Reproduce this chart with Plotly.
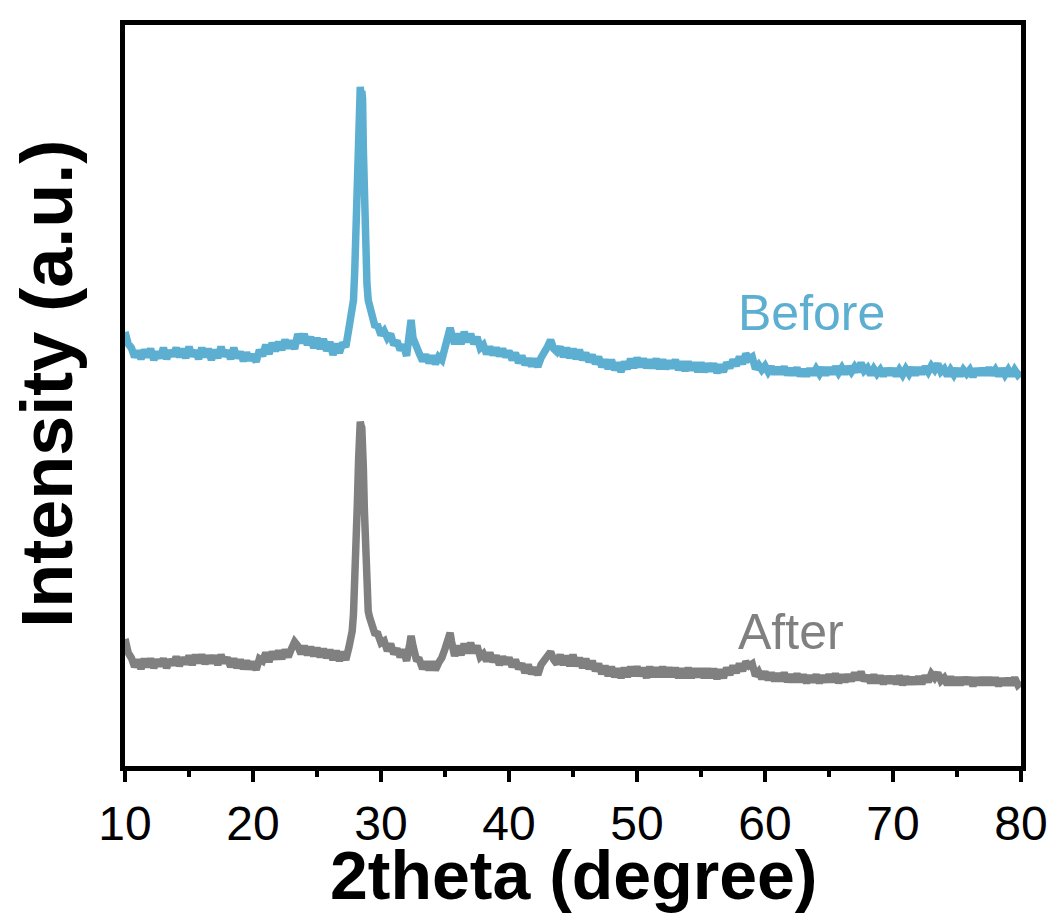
import plotly.graph_objects as go

# 2theta sampling positions (degree)
two_theta = [
    10.0, 10.25, 10.5, 10.75,
    11.0, 11.25, 11.5, 11.75,
    12.0, 12.25, 12.5, 12.75,
    13.0, 13.25, 13.5, 13.75,
    14.0, 14.25, 14.5, 14.75,
    15.0, 15.25, 15.5, 15.75,
    16.0, 16.25, 16.5, 16.75,
    17.0, 17.25, 17.5, 17.75,
    18.0, 18.25, 18.5, 18.75,
    19.0, 19.25, 19.5, 19.75,
    20.0, 20.25, 20.5, 20.75,
    21.0, 21.25, 21.5, 21.75,
    22.0, 22.25, 22.5, 22.75,
    23.0, 23.25, 23.5, 23.75,
    24.0, 24.25, 24.5, 24.75,
    25.0, 25.25, 25.5, 25.75,
    26.0, 26.25, 26.5, 26.75,
    27.0, 27.25, 27.5, 27.75, 27.85, 27.95,
    28.05, 28.15, 28.25, 28.32, 28.38, 28.44, 28.5, 28.56, 28.62, 28.7, 28.8, 28.9,
    29.0, 29.1, 29.25, 29.5, 29.75,
    30.0, 30.25, 30.5, 30.75,
    31.0, 31.25, 31.5, 31.75,
    32.0, 32.25, 32.35, 32.5, 32.75,
    33.0, 33.25, 33.5, 33.75,
    34.0, 34.25, 34.5, 34.75,
    35.0, 35.25, 35.4, 35.5, 35.75,
    36.0, 36.25, 36.5, 36.75,
    37.0, 37.25, 37.5, 37.75,
    38.0, 38.25, 38.5, 38.75,
    39.0, 39.25, 39.5, 39.75,
    40.0, 40.25, 40.5, 40.75,
    41.0, 41.25, 41.5, 41.75,
    42.0, 42.25, 42.5, 42.75,
    43.0, 43.25, 43.5, 43.75,
    44.0, 44.25, 44.5, 44.75,
    45.0, 45.25, 45.5, 45.75,
    46.0, 46.25, 46.5, 46.75,
    47.0, 47.25, 47.5, 47.75,
    48.0, 48.25, 48.5, 48.75,
    49.0, 49.25, 49.5, 49.75,
    50.0, 50.25, 50.5, 50.75,
    51.0, 51.25, 51.5, 51.75,
    52.0, 52.25, 52.5, 52.75,
    53.0, 53.25, 53.5, 53.75,
    54.0, 54.25, 54.5, 54.75,
    55.0, 55.25, 55.5, 55.75,
    56.0, 56.25, 56.5, 56.75,
    57.0, 57.25, 57.5, 57.75,
    58.0, 58.25, 58.5, 58.75,
    59.0, 59.25, 59.5, 59.75,
    60.0, 60.25, 60.5, 60.75,
    61.0, 61.25, 61.5, 61.75,
    62.0, 62.25, 62.5, 62.75,
    63.0, 63.25, 63.5, 63.75,
    64.0, 64.25, 64.5, 64.75,
    65.0, 65.25, 65.5, 65.75,
    66.0, 66.25, 66.5, 66.75,
    67.0, 67.25, 67.5, 67.75,
    68.0, 68.25, 68.5, 68.75,
    69.0, 69.25, 69.5, 69.75,
    70.0, 70.25, 70.5, 70.75,
    71.0, 71.25, 71.5, 71.75,
    72.0, 72.25, 72.5, 72.75,
    73.0, 73.25, 73.5, 73.75,
    74.0, 74.25, 74.5, 74.75,
    75.0, 75.25, 75.5, 75.75,
    76.0, 76.25, 76.5, 76.75,
    77.0, 77.25, 77.5, 77.75,
    78.0, 78.25, 78.5, 78.75,
    79.0, 79.25, 79.5, 79.75,
    80.0,
]

# Intensity (a.u.), "Before" pattern (offset stacked)
before = [
    468, 456, 452, 443,
    449, 441, 450, 443,
    451, 440, 448, 442,
    452, 441, 449, 444,
    452, 443, 451, 442,
    453, 444, 449, 441,
    452, 443, 451, 440,
    450, 442, 453, 444,
    449, 441, 452, 442,
    448, 439, 447, 440,
    445, 438, 450, 444,
    455, 446, 457, 449,
    458, 450, 460, 452,
    459, 451, 466, 457,
    466, 455, 463, 452,
    462, 451, 461, 449,
    458, 445, 456, 447,
    457, 453, 472, 488, 500, 530,
    575, 620, 668, 708, 714, 700, 710, 702, 652, 600, 550, 517,
    500, 494, 488, 475, 474,
    465, 469, 462, 466,
    455, 459, 450, 455,
    444, 470, 480, 462, 452,
    446, 439, 445, 437,
    444, 436, 443, 440,
    450, 465, 472, 467, 456,
    466, 456, 468, 458,
    466, 456, 463, 452,
    455, 446, 453, 445,
    452, 444, 451, 443,
    449, 440, 447, 437,
    444, 435, 441, 434,
    441, 433, 442, 446,
    453, 460, 451, 448,
    453, 443, 452, 442,
    451, 441, 450, 440,
    447, 438, 445, 436,
    443, 433, 440, 431,
    440, 430, 437, 428,
    438, 431, 441, 432,
    442, 433, 441, 432,
    440, 432, 441, 431,
    440, 431, 439, 432,
    440, 430, 438, 429,
    438, 430, 437, 428,
    437, 428, 436, 429,
    436, 427, 435, 428,
    437, 432, 440, 434,
    443, 436, 446, 441,
    443, 431, 435, 430,
    434, 428, 433, 426,
    432, 426, 433, 425,
    431, 425, 432, 424,
    430, 424, 431, 425,
    431, 426, 432, 425,
    432, 426, 433, 427,
    432, 426, 433, 428,
    433, 428, 437, 429,
    432, 425, 431, 426,
    430, 424, 431, 425,
    431, 424, 430, 425,
    431, 426, 432, 425,
    432, 426, 433, 428,
    434, 430, 436, 428,
    431, 424, 430, 425,
    431, 424, 430, 426,
    430, 423, 431, 425,
    431, 425, 432, 425,
    430, 424, 431, 425,
    430, 424, 430, 425,
    428,
]

# Intensity (a.u.), "After" pattern
after = [
    160, 146, 141, 132,
    139, 130, 140, 132,
    140, 131, 139, 133,
    140, 131, 139, 134,
    142, 133, 141, 135,
    143, 134, 144, 136,
    144, 135, 143, 136,
    143, 134, 144, 136,
    141, 132, 140, 131,
    139, 130, 138, 130,
    137, 129, 140, 138,
    146, 137, 147, 140,
    148, 140, 149, 142,
    150, 157, 153, 145,
    153, 144, 152, 143,
    151, 142, 150, 141,
    149, 139, 148, 138,
    147, 139, 152, 168, 185, 210,
    250, 295, 340, 372, 378, 374, 372, 362, 332, 290, 240, 205,
    188, 182, 176, 166, 165,
    156, 158, 148, 155,
    145, 150, 142, 149,
    138, 155, 163, 153, 140,
    139, 130, 137, 129,
    137, 129, 136, 141,
    150, 162, 166, 158, 143,
    153, 144, 155, 146,
    156, 146, 153, 142,
    145, 138, 146, 137,
    143, 134, 142, 135,
    141, 132, 139, 130,
    135, 126, 134, 125,
    131, 124, 134, 139,
    145, 147, 139, 135,
    144, 134, 143, 133,
    144, 133, 141, 131,
    140, 130, 138, 128,
    135, 125, 133, 123,
    132, 122, 130, 121,
    131, 122, 132, 123,
    132, 123, 131, 121,
    132, 122, 131, 122,
    132, 122, 131, 122,
    131, 121, 130, 121,
    131, 121, 130, 122,
    130, 121, 130, 121,
    130, 120, 129, 121,
    131, 124, 133, 126,
    135, 128, 137, 133,
    135, 123, 127, 120,
    127, 119, 126, 118,
    125, 118, 126, 117,
    124, 117, 125, 117,
    124, 116, 123, 117,
    124, 116, 123, 117,
    124, 117, 125, 116,
    124, 117, 124, 118,
    126, 119, 127, 118,
    123, 116, 124, 116,
    123, 115, 122, 116,
    122, 115, 123, 114,
    122, 115, 121, 115,
    122, 115, 123, 117,
    125, 121, 126, 118,
    121, 114, 122, 114,
    121, 114, 121, 115,
    121, 113, 121, 114,
    121, 114, 121, 114,
    121, 113, 120, 114,
    120, 114, 121, 114,
    117,
]

assert len(two_theta) == len(before) == len(after)

x_ticks = [10, 20, 30, 40, 50, 60, 70, 80]
labels = ["Before", "After"]
colors = ["#5DAFD2", "#808080"]

FONT = "Liberation Sans, Arial, sans-serif"

fig = go.Figure()
for name, ys, col in zip(labels, [before, after], colors):
    fig.add_trace(go.Scatter(
        x=two_theta, y=ys, mode="lines", name=name,
        line=dict(color=col, width=7.5), showlegend=False,
    ))

# curve labels
fig.add_annotation(x=63.6, y=487, xref="x", yref="y", text="Before", showarrow=False,
                   font=dict(family=FONT, size=50, color=colors[0]))
fig.add_annotation(x=62.05, y=167, xref="x", yref="y", text="After", showarrow=False,
                   font=dict(family=FONT, size=50, color=colors[1]))

# axis titles
fig.add_annotation(x=0.5, y=-0.147, xref="paper", yref="paper", text="<b>2theta (degree)</b>",
                   showarrow=False, xanchor="center", yanchor="middle",
                   font=dict(family=FONT, size=68, color="black"))
fig.add_annotation(x=-0.088, y=0.516, xref="paper", yref="paper", text="<b>Intensity (a.u.)</b>",
                   showarrow=False, xanchor="center", yanchor="middle", textangle=-90,
                   font=dict(family=FONT, size=72, color="black"))

fig.update_layout(
    width=1055, height=914,
    margin=dict(l=117, r=42, t=13, b=156),
    paper_bgcolor="white", plot_bgcolor="white",
    font=dict(family=FONT, color="black"),
)
fig.update_xaxes(
    range=[10, 80], tickmode="array", tickvals=x_ticks, ticktext=[str(v) for v in x_ticks],
    ticks="outside", ticklen=11, tickwidth=4, tickcolor="black",
    minor=dict(ticks="outside", dtick=5, tick0=10, ticklen=6, tickwidth=4, tickcolor="black"),
    showline=True, linewidth=5, linecolor="black", mirror=True,
    showgrid=False, zeroline=False,
    tickfont=dict(family=FONT, size=48, color="black"),
    ticklabelstandoff=0,
)
fig.update_yaxes(
    range=[32.5, 776], showticklabels=False, ticks="",
    showline=True, linewidth=5, linecolor="black", mirror=True,
    showgrid=False, zeroline=False,
)

fig.write_html("out.html")
